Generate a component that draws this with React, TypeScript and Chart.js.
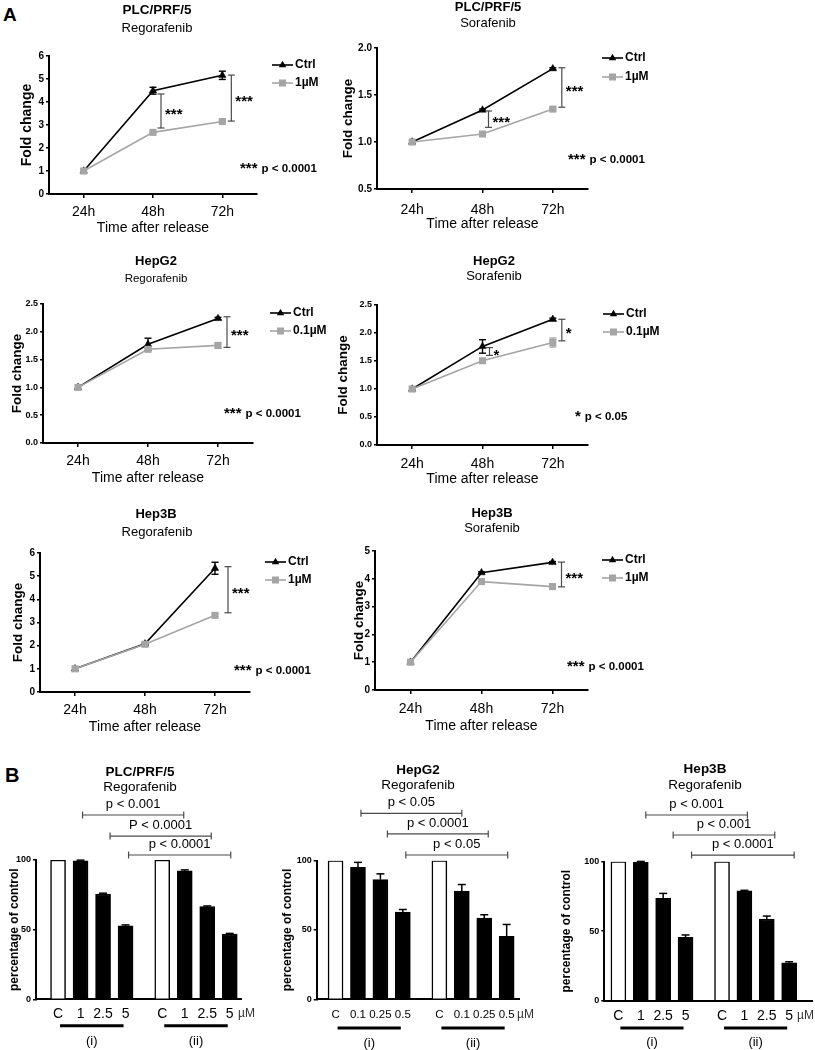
import React, { useEffect, useRef } from 'react';
import { Chart, registerables } from 'chart.js';

Chart.register(...registerables);

const SANS = "'Liberation Sans', Arial, Helvetica, sans-serif";
const CTRL_COLOR = '#000000';
const TREATED_COLOR = '#a5a5a5';
const BRACKET_COLOR = '#4a4a4a';

// ---------------- Panel A data ----------------
const timeLabels = ['24h', '48h', '72h'];

// PLC/PRF/5 - Regorafenib
const plcRegoCtrl = [1.0, 4.49, 5.16];
const plcRegoCtrlErr = [0, 0.15, 0.18];
const plcRego1uM = [1.0, 2.68, 3.15];
const plcRego1uMErr = [0, 0.04, 0.05];
const plcRegoSig = [
  { at: 1, hi: 4.35, lo: 2.87, mark: '***' },
  { at: 2, hi: 5.17, lo: 3.17, mark: '***' },
];

// PLC/PRF/5 - Sorafenib
const plcSoraCtrl = [1.0, 1.34, 1.78];
const plcSoraCtrlErr = [0, 0.01, 0.01];
const plcSora1uM = [1.0, 1.085, 1.35];
const plcSora1uMErr = [0, 0.01, 0.01];
const plcSoraSig = [
  { at: 1, hi: 1.33, lo: 1.156, mark: '***' },
  { at: 2, hi: 1.79, lo: 1.37, mark: '***' },
];

// HepG2 - Regorafenib
const hepg2RegoCtrl = [1.0, 1.775, 2.24];
const hepg2RegoCtrlErr = [0, 0.11, 0.02];
const hepg2Rego01uM = [1.0, 1.685, 1.755];
const hepg2Rego01uMErr = [0, 0.02, 0.05];
const hepg2RegoSig = [{ at: 2, hi: 2.27, lo: 1.72, mark: '***' }];

// HepG2 - Sorafenib
const hepg2SoraCtrl = [1.0, 1.76, 2.245];
const hepg2SoraCtrlErr = [0, 0.12, 0.02];
const hepg2Sora01uM = [1.0, 1.505, 1.83];
const hepg2Sora01uMErr = [0, 0.02, 0.08];
const hepg2SoraSig = [
  { at: 1, hi: 1.74, lo: 1.6, mark: '*' },
  { at: 2, hi: 2.245, lo: 1.86, mark: '*' },
];

// Hep3B - Regorafenib
const hep3bRegoCtrl = [1.0, 2.08, 5.34];
const hep3bRegoCtrlErr = [0, 0.03, 0.26];
const hep3bRego1uM = [1.0, 2.06, 3.31];
const hep3bRego1uMErr = [0, 0.03, 0.06];
const hep3bRegoSig = [{ at: 2, hi: 5.41, lo: 3.42, mark: '***' }];

// Hep3B - Sorafenib
const hep3bSoraCtrl = [1.0, 4.22, 4.59];
const hep3bSoraCtrlErr = [0, 0.03, 0.03];
const hep3bSora1uM = [1.0, 3.9, 3.72];
const hep3bSora1uMErr = [0, 0.03, 0.04];
const hep3bSoraSig = [{ at: 2, hi: 4.6, lo: 3.71, mark: '***' }];

// ---------------- Panel B data ----------------
const barPositions = [0, 1, 2, 3, 4.63, 5.63, 6.63, 7.63];
const doseLabels = ['C', '1', '2.5', '5', 'C', '1', '2.5', '5'];
const doseLabelsHepG2 = ['C', '0.1', '0.25', '0.5', 'C', '0.1', '0.25', '0.5'];
const groupLabels = ['(i)', '(ii)'];

const plcBarI = [100, 99.4, 75.6, 52.8];
const plcBarIErr = [0, 0.5, 0.6, 0.6];
const plcBarII = [100, 92.3, 66.5, 46.9];
const plcBarIIErr = [0, 0.6, 0.5, 0.4];
const plcBarSig = [
  { from: 1, to: 5, at: 132.3, text: 'p < 0.001' },
  { from: 2, to: 6, at: 117.2, text: 'P < 0.0001' },
  { from: 3, to: 7, at: 103.6, text: 'p < 0.0001' },
];

const hepg2BarI = [100, 95.2, 86.4, 62.9];
const hepg2BarIErr = [0, 3.6, 4.1, 1.9];
const hepg2BarII = [100, 78.0, 58.6, 45.4];
const hepg2BarIIErr = [0, 4.8, 2.4, 8.6];
const hepg2BarSig = [
  { from: 1, to: 5, at: 134.2, text: 'p < 0.05' },
  { from: 2, to: 6, at: 119.3, text: 'p < 0.0001' },
  { from: 3, to: 7, at: 104.1, text: 'p < 0.05' },
];

const hep3bBarI = [100, 99.6, 73.6, 45.6];
const hep3bBarIErr = [0, 0.6, 3.6, 1.7];
const hep3bBarII = [100, 79.1, 58.8, 27.3];
const hep3bBarIIErr = [0, 0.3, 2.1, 0.7];
const hep3bBarSig = [
  { from: 1, to: 5, at: 133.6, text: 'p < 0.001' },
  { from: 2, to: 6, at: 119.2, text: 'p < 0.001' },
  { from: 3, to: 7, at: 104.8, text: 'p < 0.0001' },
];

// ---------------- helpers ----------------
function seg(ctx: CanvasRenderingContext2D, x1: number, y1: number, x2: number, y2: number) {
  ctx.beginPath();
  ctx.moveTo(x1, y1);
  ctx.lineTo(x2, y2);
  ctx.stroke();
}
function txt(ctx: CanvasRenderingContext2D, s: string, x: number, y: number, font: string, align: CanvasTextAlign = 'center', color = '#000') {
  ctx.font = font;
  ctx.fillStyle = color;
  ctx.textAlign = align;
  ctx.textBaseline = 'middle';
  ctx.fillText(s, x, y);
}
function triangle(ctx: CanvasRenderingContext2D, x: number, y: number, r: number) {
  ctx.beginPath();
  ctx.moveTo(x, y - r);
  ctx.lineTo(x + r * 0.866, y + r * 0.5);
  ctx.lineTo(x - r * 0.866, y + r * 0.5);
  ctx.closePath();
  ctx.fill();
}

// ---------------- line panels ----------------
const lineSpecs: any[] = [
  {
    title: 'PLC/PRF/5', subtitle: 'Regorafenib', yMin: 0, yMax: 6, yStep: 1, yDec: 0,
    ctrl: plcRegoCtrl, ctrlErr: plcRegoCtrlErr, treated: plcRego1uM, treatedErr: plcRego1uMErr,
    treatedLabel: '1µM', sig: plcRegoSig, note: ['***', 'p < 0.0001'],
    layout: { box: [0, 0, 330, 245], area: [49, 56, 257, 194], yTitleX: 27, yTitleFont: 14, yTickFont: 10, xTickY: 212, xTitleY: 228, titleAt: [157, 10, 13.5], subAt: [157, 28, 13], legendAt: [272, 65, 18], noteAt: [240, 168.5], bracketDx: [8, 9] },
  },
  {
    title: 'PLC/PRF/5', subtitle: 'Sorafenib', yMin: 0.5, yMax: 2, yStep: 0.5, yDec: 1,
    ctrl: plcSoraCtrl, ctrlErr: plcSoraCtrlErr, treated: plcSora1uM, treatedErr: plcSora1uMErr,
    treatedLabel: '1µM', sig: plcSoraSig, note: ['***', 'p < 0.0001'],
    layout: { box: [330, 0, 485, 245], area: [377, 48, 588, 189], yTitleX: 348, yTitleFont: 13.5, yTickFont: 10, xTickY: 210, xTitleY: 224, titleAt: [488, 7, 13], subAt: [488, 23, 13], legendAt: [602, 58, 19], noteAt: [568, 160], bracketDx: [6, 9] },
  },
  {
    title: 'HepG2', subtitle: 'Regorafenib', yMin: 0, yMax: 2.5, yStep: 0.5, yDec: 1,
    ctrl: hepg2RegoCtrl, ctrlErr: hepg2RegoCtrlErr, treated: hepg2Rego01uM, treatedErr: hepg2Rego01uMErr,
    treatedLabel: '0.1µM', sig: hepg2RegoSig, note: ['***', 'p < 0.0001'],
    layout: { box: [0, 245, 330, 245], area: [43, 304, 253, 443], yTitleX: 17.5, yTitleFont: 13.5, yTickFont: 9, xTickY: 461, xTitleY: 478, titleAt: [156, 261, 13], subAt: [156, 279, 11.5], legendAt: [270, 313, 18], noteAt: [224, 414], bracketDx: [9] },
  },
  {
    title: 'HepG2', subtitle: 'Sorafenib', yMin: 0, yMax: 2.5, yStep: 0.5, yDec: 1,
    ctrl: hepg2SoraCtrl, ctrlErr: hepg2SoraCtrlErr, treated: hepg2Sora01uM, treatedErr: hepg2Sora01uMErr,
    treatedLabel: '0.1µM', sig: hepg2SoraSig, note: ['*', 'p < 0.05'],
    layout: { box: [330, 245, 485, 245], area: [377, 305, 588, 445], yTitleX: 343, yTitleFont: 13.5, yTickFont: 9, xTickY: 464, xTitleY: 479, titleAt: [494, 261, 13], subAt: [494, 276, 13], legendAt: [603, 314, 18], noteAt: [575, 416.5], bracketDx: [7, 9] },
  },
  {
    title: 'Hep3B', subtitle: 'Regorafenib', yMin: 0, yMax: 6, yStep: 1, yDec: 0,
    ctrl: hep3bRegoCtrl, ctrlErr: hep3bRegoCtrlErr, treated: hep3bRego1uM, treatedErr: hep3bRego1uMErr,
    treatedLabel: '1µM', sig: hep3bRegoSig, note: ['***', 'p < 0.0001'],
    layout: { box: [0, 490, 330, 250], area: [40, 553, 250, 692], yTitleX: 18, yTitleFont: 13.5, yTickFont: 10, xTickY: 710, xTitleY: 727, titleAt: [156, 514, 13], subAt: [157, 532, 13], legendAt: [265, 562, 18], noteAt: [234, 671], bracketDx: [13] },
  },
  {
    title: 'Hep3B', subtitle: 'Sorafenib', yMin: 0, yMax: 5, yStep: 1, yDec: 0,
    ctrl: hep3bSoraCtrl, ctrlErr: hep3bSoraCtrlErr, treated: hep3bSora1uM, treatedErr: hep3bSora1uMErr,
    treatedLabel: '1µM', sig: hep3bSoraSig, note: ['***', 'p < 0.0001'],
    layout: { box: [330, 490, 485, 250], area: [375, 551, 588, 690], yTitleX: 359, yTitleFont: 13.5, yTickFont: 10, xTickY: 709, xTitleY: 726, titleAt: [492, 513, 13], subAt: [492, 528, 13], legendAt: [602, 560, 18], noteAt: [567, 667], bracketDx: [9] },
  },
];

function lineDecor(spec: any) {
  const L = spec.layout;
  const bx = L.box[0], by = L.box[1];
  return {
    id: 'lineDecor',
    beforeDatasetsDraw(chart: any) {
      const { ctx } = chart;
      const xs = chart.scales.x, ys = chart.scales.y;
      ctx.save();
      const sets: [number[], number[], string][] = [
        [spec.ctrl, spec.ctrlErr, CTRL_COLOR],
        [spec.treated, spec.treatedErr, TREATED_COLOR],
      ];
      sets.forEach(([vals, errs, color]) => {
        vals.forEach((v, i) => {
          const e = errs[i];
          if (!e) return;
          const x = xs.getPixelForValue(i);
          const yT = ys.getPixelForValue(v + e);
          const yB = ys.getPixelForValue(v - e);
          ctx.strokeStyle = color;
          ctx.lineWidth = 1.4;
          seg(ctx, x, yT, x, yB);
          seg(ctx, x - 3.5, yT, x + 3.5, yT);
          seg(ctx, x - 3.5, yB, x + 3.5, yB);
        });
      });
      ctx.restore();
    },
    afterDraw(chart: any) {
      const { ctx } = chart;
      const xs = chart.scales.x, ys = chart.scales.y;
      ctx.save();
      txt(ctx, spec.title, L.titleAt[0] - bx, L.titleAt[1] - by, `bold ${L.titleAt[2]}px ${SANS}`);
      txt(ctx, spec.subtitle, L.subAt[0] - bx, L.subAt[1] - by, `${L.subAt[2]}px ${SANS}`);
      spec.sig.forEach((s: any, k: number) => {
        const x = xs.getPixelForValue(s.at) + L.bracketDx[k];
        const y1 = ys.getPixelForValue(s.hi);
        const y2 = ys.getPixelForValue(s.lo);
        ctx.strokeStyle = BRACKET_COLOR;
        ctx.lineWidth = 1.2;
        seg(ctx, x, y1, x, y2);
        seg(ctx, x - 3.5, y1, x + 3.5, y1);
        seg(ctx, x - 3.5, y2, x + 3.5, y2);
        txt(ctx, s.mark, x + 4, (y1 + y2) / 2 + 4, `bold 15px ${SANS}`, 'left');
      });
      const entries = [
        { label: 'Ctrl', color: CTRL_COLOR, tri: true },
        { label: spec.treatedLabel, color: TREATED_COLOR, tri: false },
      ];
      entries.forEach((e, i) => {
        const x0 = L.legendAt[0] - bx;
        const y = L.legendAt[1] - by + i * L.legendAt[2];
        ctx.strokeStyle = e.color;
        ctx.fillStyle = e.color;
        ctx.lineWidth = 1.6;
        seg(ctx, x0, y, x0 + 21, y);
        if (e.tri) triangle(ctx, x0 + 10.5, y, 4.3);
        else ctx.fillRect(x0 + 10.5 - 3.5, y - 3.5, 7, 7);
        txt(ctx, e.label, x0 + 23, y, `bold 12px ${SANS}`, 'left');
      });
      const nx = L.noteAt[0] - bx, ny = L.noteAt[1] - by;
      ctx.font = `bold 15px ${SANS}`;
      const w = ctx.measureText(spec.note[0]).width;
      txt(ctx, spec.note[0], nx, ny, `bold 15px ${SANS}`, 'left');
      txt(ctx, spec.note[1], nx + w + 4, ny, `bold 11.5px ${SANS}`, 'left');
      ctx.restore();
    },
  };
}

function lineConfig(spec: any): any {
  const L = spec.layout;
  const [bx, by, bw, bh] = L.box;
  const [al, at, ar, ab] = L.area;
  const yW = al - L.yTitleX + (L.yTitleFont * 1.2) / 2;
  const xTitleFont = 14;
  const xTickFont = 14;
  const xTickLen = 4;
  const xH = L.xTitleY - ab + (xTitleFont * 1.2) / 2;
  const xTickPad = L.xTickY - ab - xTickLen - (xTickFont * 1.2) / 2;
  return {
    type: 'line',
    data: {
      labels: timeLabels,
      datasets: [
        {
          label: 'Ctrl', data: spec.ctrl, borderColor: CTRL_COLOR, backgroundColor: CTRL_COLOR,
          borderWidth: 1.6, pointStyle: 'triangle', pointRadius: 4.3, pointBorderWidth: 0.5,
          fill: false, tension: 0, order: 1,
        },
        {
          label: spec.treatedLabel, data: spec.treated, borderColor: TREATED_COLOR, backgroundColor: TREATED_COLOR,
          borderWidth: 1.6, pointStyle: 'rect', pointRadius: 5, pointBorderWidth: 0,
          fill: false, tension: 0, order: 0,
        },
      ],
    },
    options: {
      responsive: false,
      animation: false,
      events: [],
      layout: { padding: { left: al - bx - yW, top: at - by, right: bx + bw - ar, bottom: by + bh - ab - xH } },
      plugins: { legend: { display: false }, tooltip: { enabled: false }, title: { display: false } },
      scales: {
        x: {
          type: 'category', offset: true,
          grid: { display: true, drawOnChartArea: false, drawTicks: true, tickLength: xTickLen, color: '#000', lineWidth: 1.5 },
          border: { display: true, color: '#000', width: 2 },
          ticks: { color: '#000', padding: xTickPad, font: { family: SANS, size: xTickFont }, maxRotation: 0, autoSkip: false },
          title: { display: true, text: 'Time after release', color: '#000', padding: 0, font: { family: SANS, size: xTitleFont } },
          afterFit: (s: any) => { s.height = xH; },
        },
        y: {
          type: 'linear', min: spec.yMin, max: spec.yMax,
          grid: { display: true, drawOnChartArea: false, drawTicks: true, tickLength: 3, color: '#000', lineWidth: 1.5 },
          border: { display: true, color: '#000', width: 2 },
          ticks: {
            stepSize: spec.yStep, color: '#000', padding: 2,
            font: { family: SANS, size: L.yTickFont, weight: 'bold' },
            callback: (v: any) => Number(v).toFixed(spec.yDec),
          },
          title: { display: true, text: 'Fold change', color: '#000', padding: 0, font: { family: SANS, size: L.yTitleFont, weight: 'bold' } },
          afterFit: (s: any) => { s.width = yW; },
        },
      },
    },
    plugins: [lineDecor(spec)],
  };
}

// ---------------- bar panels ----------------
const barSpecs: any[] = [
  {
    title: 'PLC/PRF/5', subtitle: 'Regorafenib', doses: doseLabels,
    groupI: plcBarI, errI: plcBarIErr, groupII: plcBarII, errII: plcBarIIErr, sig: plcBarSig,
    layout: { box: [0, 740, 272, 310], area: [36, 860, 241, 999.3], yTitleX: 15, xMin: -0.98, xMax: 8.13, xTickY: 1014, xTickFont: 14, underlineY: 1025.7, groupLabelY: 1041.7, uM: [238, 1014], titleAt: [140, 772, 13.5], subAt: [140, 787, 13.5], sigDx: [[2, -1], [7, 4], [3, 1]] },
  },
  {
    title: 'HepG2', subtitle: 'Regorafenib', doses: doseLabelsHepG2,
    groupI: hepg2BarI, errI: hepg2BarIErr, groupII: hepg2BarII, errII: hepg2BarIIErr, sig: hepg2BarSig,
    layout: { box: [272, 740, 268, 310], area: [316.7, 860.7, 519, 999.3], yTitleX: 288, xMin: -0.84, xMax: 8.18, xTickY: 1015, xTickFont: 11.5, underlineY: 1028, groupLabelY: 1043, uM: [517, 1015], titleAt: [418, 770, 13.5], subAt: [418, 785, 13.5], sigDx: [[3, 0], [7, 4], [3, 1]] },
  },
  {
    title: 'Hep3B', subtitle: 'Regorafenib', doses: doseLabels,
    groupI: hep3bBarI, errI: hep3bBarIErr, groupII: hep3bBarII, errII: hep3bBarIIErr, sig: hep3bBarSig,
    layout: { box: [540, 740, 275, 310], area: [604.3, 861.7, 812, 1000.7], yTitleX: 567, xMin: -0.63, xMax: 8.65, xTickY: 1016, xTickFont: 14, underlineY: 1028, groupLabelY: 1042, uM: [797, 1016], titleAt: [705, 769, 13.5], subAt: [705, 785, 13.5], sigDx: [[5, 3], [10, 8], [6, 5]] },
  },
];

function barDecor(spec: any) {
  const L = spec.layout;
  const bx = L.box[0], by = L.box[1];
  const values = [...spec.groupI, ...spec.groupII];
  const errs = [...spec.errI, ...spec.errII];
  return {
    id: 'barDecor',
    afterDraw(chart: any) {
      const { ctx } = chart;
      const xs = chart.scales.x, ys = chart.scales.y;
      ctx.save();
      values.forEach((v: number, i: number) => {
        const e = errs[i];
        if (!e) return;
        const x = xs.getPixelForValue(barPositions[i]);
        const y0 = ys.getPixelForValue(v);
        const y1 = ys.getPixelForValue(v + e);
        ctx.strokeStyle = '#000';
        ctx.lineWidth = 1.5;
        seg(ctx, x, y0, x, y1);
        seg(ctx, x - 4, y1, x + 4, y1);
      });
      spec.sig.forEach((s: any, k: number) => {
        const x1 = xs.getPixelForValue(barPositions[s.from]) + L.sigDx[k][0];
        const x2 = xs.getPixelForValue(barPositions[s.to]) + L.sigDx[k][1];
        const y = ys.getPixelForValue(s.at);
        ctx.strokeStyle = BRACKET_COLOR;
        ctx.lineWidth = 1.2;
        seg(ctx, x1, y, x2, y);
        seg(ctx, x1, y - 3.5, x1, y + 3.5);
        seg(ctx, x2, y - 3.5, x2, y + 3.5);
        txt(ctx, s.text, (x1 + x2) / 2, y - 10.5, `13px ${SANS}`);
      });
      [[0, 3], [4, 7]].forEach(([a, b], g) => {
        const xa = xs.getPixelForValue(barPositions[a]);
        const xb = xs.getPixelForValue(barPositions[b]);
        ctx.strokeStyle = '#000';
        ctx.lineWidth = 3;
        seg(ctx, xa + 2, L.underlineY - by, xb - 2, L.underlineY - by);
        txt(ctx, groupLabels[g], (xa + xb) / 2, L.groupLabelY - by, `13px ${SANS}`);
      });
      txt(ctx, 'µM', L.uM[0] - bx, L.uM[1] - by, `12px ${SANS}`, 'left', '#333');
      txt(ctx, spec.title, L.titleAt[0] - bx, L.titleAt[1] - by, `bold ${L.titleAt[2]}px ${SANS}`);
      txt(ctx, spec.subtitle, L.subAt[0] - bx, L.subAt[1] - by, `${L.subAt[2]}px ${SANS}`);
      ctx.restore();
    },
  };
}

function barConfig(spec: any): any {
  const L = spec.layout;
  const [bx, by, bw, bh] = L.box;
  const [al, at, ar, ab] = L.area;
  const yTitleFont = 12;
  const yW = al - L.yTitleX + (yTitleFont * 1.2) / 2;
  const xH = 30;
  const xTickFont = L.xTickFont;
  const xTickPad = L.xTickY - ab - (xTickFont * 1.2) / 2;
  const values = [...spec.groupI, ...spec.groupII];
  return {
    type: 'bar',
    data: {
      datasets: [
        {
          data: barPositions.map((x, i) => ({ x, y: values[i] })),
          backgroundColor: values.map((_: number, i: number) => (i % 4 === 0 ? '#ffffff' : '#000000')),
          borderColor: '#000',
          borderWidth: 1.5,
          barThickness: 15,
        },
      ],
    },
    options: {
      responsive: false,
      animation: false,
      events: [],
      layout: { padding: { left: al - bx - yW, top: at - by, right: bx + bw - ar, bottom: by + bh - ab - xH } },
      plugins: { legend: { display: false }, tooltip: { enabled: false }, title: { display: false } },
      scales: {
        x: {
          type: 'linear', min: L.xMin, max: L.xMax, offset: false,
          grid: { display: false, drawTicks: false },
          border: { display: true, color: '#000', width: 2 },
          afterBuildTicks: (s: any) => { s.ticks = barPositions.map((v) => ({ value: v })); },
          ticks: {
            autoSkip: false, maxRotation: 0, minRotation: 0, padding: xTickPad, color: '#000',
            font: { family: SANS, size: xTickFont },
            callback: (_v: any, i: number) => spec.doses[i],
          },
          afterFit: (s: any) => { s.height = xH; },
        },
        y: {
          type: 'linear', min: 0, max: 100,
          grid: { display: true, drawOnChartArea: false, drawTicks: true, tickLength: 3, color: '#000', lineWidth: 1.5 },
          border: { display: true, color: '#000', width: 2 },
          ticks: { stepSize: 50, color: '#000', padding: 2, font: { family: SANS, size: 9, weight: 'bold' } },
          title: { display: true, text: 'percentage of control', color: '#000', padding: 0, font: { family: SANS, size: yTitleFont, weight: 'bold' } },
          afterFit: (s: any) => { s.width = yW; },
        },
      },
    },
    plugins: [barDecor(spec)],
  };
}

// ---------------- components ----------------
function ChartCanvas({ box, make }: { box: number[]; make: () => any }) {
  const ref = useRef<HTMLCanvasElement>(null);
  useEffect(() => {
    const chart = new Chart(ref.current as HTMLCanvasElement, make());
    return () => chart.destroy();
  }, []);
  const [x, y, w, h] = box;
  return (
    <canvas
      ref={ref}
      width={w}
      height={h}
      style={{ position: 'absolute', left: x, top: y, width: w, height: h }}
    />
  );
}

export default function App() {
  return (
    <div style={{ position: 'absolute', left: 0, top: 0, width: 815, height: 1050, background: '#ffffff', overflow: 'hidden' }}>
      <div style={{ position: 'absolute', left: 3, top: 4.5, font: `bold 19px/19px ${SANS}`, color: '#000' }}>A</div>
      <div style={{ position: 'absolute', left: 5, top: 765.4, font: `bold 20px/20px ${SANS}`, color: '#000' }}>B</div>
      {lineSpecs.map((s, i) => (
        <ChartCanvas key={'l' + i} box={s.layout.box} make={() => lineConfig(s)} />
      ))}
      {barSpecs.map((s, i) => (
        <ChartCanvas key={'b' + i} box={s.layout.box} make={() => barConfig(s)} />
      ))}
    </div>
  );
}
